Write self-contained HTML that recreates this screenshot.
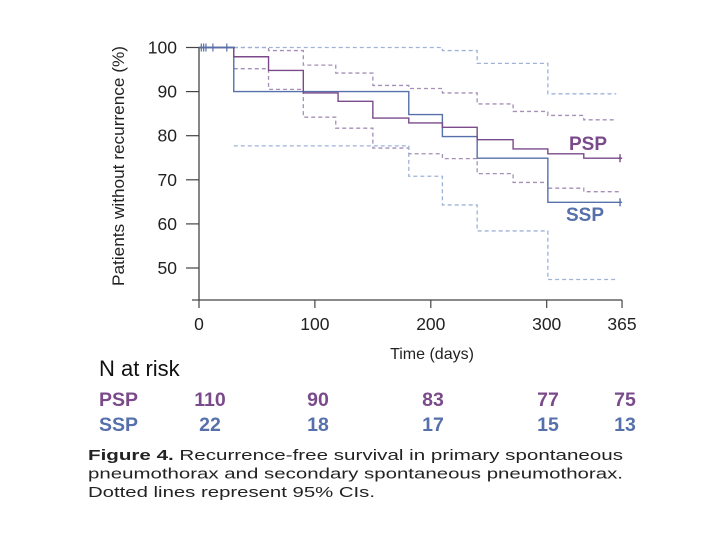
<!DOCTYPE html>
<html><head><meta charset="utf-8"><style>
body{margin:0;background:#fff;width:720px;height:540px;overflow:hidden;font-family:"Liberation Sans",sans-serif}
</style></head><body>
<svg width="720" height="540" xmlns="http://www.w3.org/2000/svg">
<g id="plot"></g>
</svg>
<script>
const xTicks=[0,100,200,300,365];
const yTicks=[100,90,80,70,60,50];
const pspTimes=[0,30,60,90,120,150,181,210,240,271,301,332,365];
const pspVals=[100,97.9,94.8,89.7,87.8,84,82.9,81.9,79.1,77,75.9,74.9,74.9];
const sspTimes=[0,30,181,210,240,301,365];
const sspVals=[100,90,84.8,79.8,74.9,64.9,64.9];
const pspUpT=[0,60,90,118,150,181,210,240,271,301,332,360];
const pspUpV=[100,99.3,96,94.2,91.4,90.7,89.7,87.2,85.5,84.6,83.6,83.6];
const pspLoT=[30,60,90,118,150,181,210,240,271,301,332,363];
const pspLoV=[95.2,90.5,84.2,81.7,77.2,75.9,74.8,71.4,69.4,68.1,67.3,67.3];
const sspUpT=[30,210,240,301,360];
const sspUpV=[100,99.3,96.4,89.5,89.5];
const sspLoT=[30,181,210,240,301,360];
const sspLoV=[77.7,70.8,64.3,58.4,47.4,47.4];
const riskTimes=[0,100,200,300,365];
const pspRisk=[110,90,83,77,75];
const sspRisk=[22,18,17,15,13];

const X=t=>199+t*(347.7/300);
const Y=v=>47.5+(100-v)*4.41;
const g=document.getElementById('plot');
const NS='http://www.w3.org/2000/svg';
function mk(tag,at){const e=document.createElementNS(NS,tag);for(const k in at)e.setAttribute(k,at[k]);g.appendChild(e);return e;}
function stepPath(ts,vs){let d='M'+X(ts[0])+','+Y(vs[0]);for(let i=1;i<ts.length;i++){d+=' H'+X(ts[i])+' V'+Y(vs[i]);}return d;}

let ax=mk('path',{d:'M199,47.5 V300 H622',fill:'none',stroke:'#444','stroke-width':1.3});


yTicks.forEach(v=>{
  const t=mk('line',{x1:186,x2:199,y1:Y(v),y2:Y(v),stroke:'#444','stroke-width':1.2});
  
  
  const l=mk('text',{x:177,y:Y(v)+6,'text-anchor':'end','font-size':17.5,fill:'#222'});
  l.textContent=v;
  
  
});
mk('line',{x1:192,x2:199,y1:300,y2:300,stroke:'#444','stroke-width':1.2});
xTicks.forEach(v=>{
  const t=mk('line',{x1:X(v),x2:X(v),y1:300,y2:308,stroke:'#444','stroke-width':1.2});
  
  
  const l=mk('text',{x:X(v),y:330,'text-anchor':'middle','font-size':17.5,fill:'#222'});
  l.textContent=v;
  
  
});
let xt=mk('text',{x:432,y:359,'text-anchor':'middle','font-size':16,fill:'#222'});xt.textContent='Time (days)';


let yt=mk('text',{x:0,y:0,transform:'translate(124,166) rotate(-90)','text-anchor':'middle','font-size':17,fill:'#222',textLength:240,lengthAdjust:'spacingAndGlyphs'});yt.textContent='Patients without recurrence (%)';



[[pspUpT,pspUpV,'#a58fb5','psp-ci-upper'],[pspLoT,pspLoV,'#a58fb5','psp-ci-lower'],[sspUpT,sspUpV,'#9fb2d8','ssp-ci-upper'],[sspLoT,sspLoV,'#9fb2d8','ssp-ci-lower']].forEach(a=>{
  const p=mk('path',{d:stepPath(a[0],a[1]),fill:'none',stroke:a[2],'stroke-width':1.3,'stroke-dasharray':'4,3'});
  
  
});
let sp=mk('path',{d:stepPath(sspTimes,sspVals),fill:'none',stroke:'#5570aa','stroke-width':1.4});


let pp=mk('path',{d:stepPath(pspTimes,pspVals),fill:'none',stroke:'#7a4a8a','stroke-width':1.4});


[2,4,6,12,24].forEach(t=>{mk('line',{x1:X(t),x2:X(t),y1:Y(100)-4,y2:Y(100)+4,stroke:'#5570aa','stroke-width':1.2});});
mk('line',{x1:199,x2:235,y1:Y(100),y2:Y(100),stroke:'#5570aa','stroke-width':1.4});
mk('line',{x1:X(365)-4,x2:X(365),y1:Y(74.9),y2:Y(74.9),stroke:'#7a4a8a','stroke-width':1.4});
mk('line',{x1:X(365)-2,x2:X(365)-2,y1:Y(74.9)-4,y2:Y(74.9)+4,stroke:'#7a4a8a','stroke-width':1.4});
mk('line',{x1:X(365)-2,x2:X(365)-2,y1:Y(64.9)-4,y2:Y(64.9)+4,stroke:'#5570aa','stroke-width':1.4});

let lp=mk('text',{x:569,y:150,'font-size':19,'font-weight':'bold',fill:'#7a4a8a'});lp.textContent='PSP';


let ls=mk('text',{x:566,y:221,'font-size':19,'font-weight':'bold',fill:'#5570aa'});ls.textContent='SSP';



let nr=mk('text',{x:99,y:376,'font-size':22,fill:'#111'});nr.textContent='N at risk';


const riskX=[210,318,433,548,625];
[['PSP',pspRisk,'#7a4a8a',406],['SSP',sspRisk,'#5570aa',431]].forEach(r=>{
  const h=mk('text',{x:99,y:r[3],'font-size':19.5,'font-weight':'bold',fill:r[2]});h.textContent=r[0];
  
  
  r[1].forEach((n,i)=>{
    const t=mk('text',{x:riskX[i],y:r[3],'text-anchor':'middle','font-size':19.5,'font-weight':'bold',fill:r[2]});t.textContent=n;
    
    
  });
});
const cap=['<tspan font-weight="bold">Figure 4.</tspan> Recurrence-free survival in primary spontaneous','pneumothorax and secondary spontaneous pneumothorax.','Dotted lines represent 95% CIs.'];
cap.forEach((c,i)=>{
  const t=mk('text',{x:88,y:460+i*18.5,'font-size':15,fill:'#222',textLength:i<2?535:287,lengthAdjust:'spacingAndGlyphs'});
  t.innerHTML=c;
  
  
});
</script>
</body></html>
